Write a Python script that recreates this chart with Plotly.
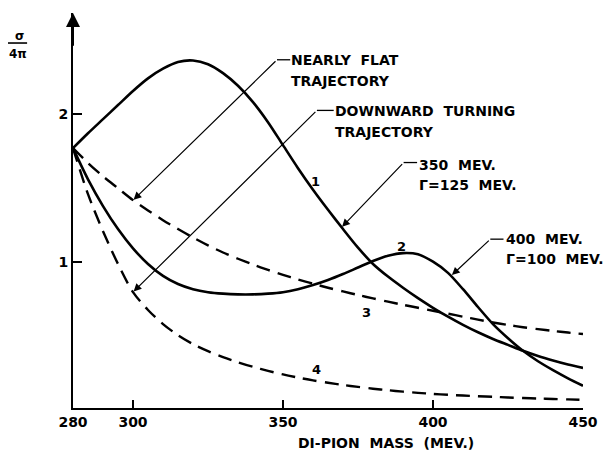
import plotly.graph_objects as go

# ---------------- data ----------------
mass = [280, 285, 290, 295, 300, 305, 310, 315, 320, 325, 330, 335, 340, 345, 350, 355, 360,
        365, 370, 375, 380, 385, 390, 395, 400, 405, 410, 415, 420, 425, 430, 435, 440, 445, 450]

sigma1 = [1.77, 1.87, 1.965, 2.06, 2.155, 2.24, 2.305, 2.35, 2.36, 2.335, 2.275, 2.19, 2.08, 1.945,
          1.79, 1.635, 1.49, 1.355, 1.225, 1.10, 0.99, 0.905, 0.83, 0.76, 0.695, 0.635, 0.58, 0.53,
          0.485, 0.445, 0.405, 0.37, 0.34, 0.313, 0.29]

sigma2 = [1.77, 1.56, 1.38, 1.225, 1.095, 0.99, 0.91, 0.855, 0.82, 0.80, 0.79, 0.785, 0.785, 0.79,
          0.80, 0.82, 0.848, 0.882, 0.922, 0.966, 1.01, 1.045, 1.063, 1.055, 1.005, 0.93, 0.82, 0.70,
          0.585, 0.49, 0.405, 0.335, 0.275, 0.22, 0.17]

sigma3 = [1.77, 1.67, 1.58, 1.50, 1.42, 1.35, 1.285, 1.225, 1.168, 1.115, 1.067, 1.025, 0.986, 0.95,
          0.917, 0.886, 0.857, 0.83, 0.805, 0.781, 0.758, 0.736, 0.715, 0.695, 0.675, 0.655, 0.635,
          0.615, 0.596, 0.579, 0.564, 0.551, 0.539, 0.528, 0.518]

sigma4 = [1.77, 1.46, 1.21, 0.99, 0.80, 0.68, 0.585, 0.51, 0.45, 0.403, 0.363, 0.328, 0.297, 0.27,
          0.246, 0.225, 0.206, 0.19, 0.175, 0.162, 0.15, 0.14, 0.13, 0.122, 0.115, 0.109, 0.104, 0.099,
          0.095, 0.091, 0.087, 0.084, 0.081, 0.078, 0.075]

x_ticks = [280, 300, 350, 400, 450]
x_tick_labels = ["280", "300", "350", "400", "450"]
y_ticks = [1, 2]
y_tick_labels = ["1", "2"]

curve_labels = ["1", "2", "3", "4"]
curve_label_x = [360.8, 389.6, 377.8, 361.0]
curve_label_y = [1.545, 1.11, 0.665, 0.28]

callout_lines = [["NEARLY  FLAT", "TRAJECTORY"],
                 ["DOWNWARD  TURNING", "TRAJECTORY"],
                 ["350  MEV.", "Γ=125  MEV."],
                 ["400  MEV.", "Γ=100  MEV."]]
callout_tip_x = [300.2, 300.2, 369.7, 406.3]
callout_tip_y = [1.422, 0.804, 1.24, 0.915]
callout_corner_x = [348.0, 361.3, 390.2, 419.1]
callout_corner_y = [2.365, 2.024, 1.673, 1.157]
callout_end_x = [352.4, 366.9, 394.7, 423.5]
callout_text_x = [352.0, 366.8, 394.8, 423.6]
callout_text_y1 = [2.365, 2.017, 1.658, 1.157]
callout_text_y2 = [2.22, 1.882, 1.523, 1.022]

# ---------------- figure ----------------
FONT = "DejaVu Sans"
fig = go.Figure()

solid = dict(color="black", width=2.6, shape="spline", smoothing=0.8)
dashed = dict(color="black", width=2.4, shape="spline", smoothing=0.8, dash="14px,8px")

fig.add_trace(go.Scatter(x=mass, y=sigma1, mode="lines", line=solid, hoverinfo="skip"))
fig.add_trace(go.Scatter(x=mass, y=sigma2, mode="lines", line=solid, hoverinfo="skip"))
fig.add_trace(go.Scatter(x=mass, y=sigma3, mode="lines", line=dashed, hoverinfo="skip"))
fig.add_trace(go.Scatter(x=mass, y=sigma4, mode="lines", line=dashed, hoverinfo="skip"))

annotations = []
shapes = []
for i, lines in enumerate(callout_lines):
    annotations.append(dict(x=callout_tip_x[i], y=callout_tip_y[i], xref="x", yref="y",
                            ax=callout_corner_x[i], ay=callout_corner_y[i], axref="x", ayref="y",
                            text="", showarrow=True, arrowhead=2, arrowsize=1.3,
                            arrowwidth=1.2, arrowcolor="black"))
    shapes.append(dict(type="line", xref="x", yref="y",
                       x0=callout_corner_x[i], y0=callout_corner_y[i],
                       x1=callout_end_x[i], y1=callout_corner_y[i],
                       line=dict(color="black", width=1.3)))
    annotations.append(dict(x=callout_text_x[i], y=callout_text_y1[i], xref="x", yref="y",
                            text=lines[0], showarrow=False, xanchor="left", yanchor="middle",
                            font=dict(family=FONT, size=14, color="black", weight="bold")))
    annotations.append(dict(x=callout_text_x[i], y=callout_text_y2[i], xref="x", yref="y",
                            text=lines[1], showarrow=False, xanchor="left", yanchor="middle",
                            font=dict(family=FONT, size=14, color="black", weight="bold")))

for lab, lx, ly in zip(curve_labels, curve_label_x, curve_label_y):
    annotations.append(dict(x=lx, y=ly, xref="x", yref="y", text=lab, showarrow=False,
                            xanchor="center", yanchor="middle",
                            font=dict(family=FONT, size=13, color="black", weight="bold")))

# y-axis arrowhead
annotations.append(dict(x=280, y=2.68, xref="x", yref="y", ax=280, ay=2.45, axref="x", ayref="y",
                        text="", showarrow=True, arrowhead=2, arrowsize=1.4, arrowwidth=2,
                        arrowcolor="black"))

# sigma / 4 pi label
annotations.append(dict(x=-0.104, y=0.943, xref="paper", yref="paper", text="σ", showarrow=False,
                        xanchor="center", yanchor="middle",
                        font=dict(family=FONT, size=12, color="black", weight="bold")))
annotations.append(dict(x=-0.108, y=0.897, xref="paper", yref="paper", text="4π", showarrow=False,
                        xanchor="center", yanchor="middle",
                        font=dict(family=FONT, size=12, color="black", weight="bold")))
shapes.append(dict(type="line", xref="paper", yref="paper", x0=-0.129, x1=-0.09, y0=0.924, y1=0.924,
                   line=dict(color="black", width=1.6)))

# x-axis title
annotations.append(dict(x=0.614, y=-0.089, xref="paper", yref="paper", text="DI-PION  MASS  (MEV.)",
                        showarrow=False, xanchor="center", yanchor="middle",
                        font=dict(family=FONT, size=14, color="black", weight="bold")))

fig.update_layout(
    width=605, height=445,
    margin=dict(l=65, r=30, t=5, b=45),
    paper_bgcolor="white", plot_bgcolor="white",
    showlegend=False,
    annotations=annotations,
    shapes=shapes,
    xaxis=dict(range=[280, 450], tickvals=x_ticks, ticktext=x_tick_labels,
               showgrid=False, zeroline=False, showline=True, linecolor="black", linewidth=2,
               ticks="inside", ticklen=8, tickwidth=2, tickcolor="black",
               tickfont=dict(family=FONT, size=14, color="black", weight="bold")),
    yaxis=dict(range=[0.02, 2.68], tickvals=y_ticks, ticktext=y_tick_labels,
               showgrid=False, zeroline=False, showline=True, linecolor="black", linewidth=2,
               ticks="inside", ticklen=9, tickwidth=2, tickcolor="black",
               tickfont=dict(family=FONT, size=14, color="black", weight="bold")),
)

fig.write_html("out.html")
